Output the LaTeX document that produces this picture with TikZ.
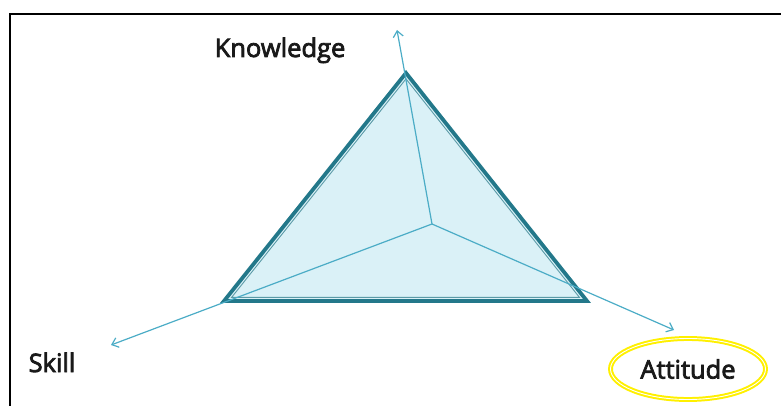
\documentclass[tikz,border=0pt]{standalone}
\usepackage{fontspec}
\setmainfont{Open Sans}
\newfontfamily\wordfont[FakeBold=3]{Open Sans}
\usetikzlibrary{shapes,arrows.meta,positioning,calc}

\definecolor{edgeteal}{HTML}{23788A}
\definecolor{axisblue}{HTML}{4BACC6}
\definecolor{facefill}{HTML}{DAF1F7}
\definecolor{markyellow}{HTML}{FFF000}

\begin{document}
\begin{tikzpicture}[
  x=1pt, y=-1pt,
  word/.style={
    font=\wordfont\fontsize{25.5}{30}\selectfont,
    text=black!90,
    inner sep=0pt
  },
  axis/.style={draw=axisblue, line width=1.2pt, -{Straight Barb[length=6pt,width=10pt]}},
  rim/.style={draw=edgeteal, line width=3.8pt, line join=miter},
  innerrim/.style={draw=edgeteal!75, line width=0.9pt},
  ring/.style={
    ellipse,
    draw=markyellow,
    double=white,
    double distance=0.9pt,
    line width=2pt,
    minimum width=155pt,
    minimum height=61pt,
    inner sep=0pt
  }
]
\useasboundingbox (0,0) rectangle (781,406);

% frame
\draw[line width=2.5pt] (10,406) -- (10,14) -- (781,14);

% corners of the triangle
\coordinate (top) at (406,73);
\coordinate (left) at (224,301);
\coordinate (right) at (587,301);
\coordinate (centre) at (432,224);
\coordinate (inc) at (405.8,213.5);

% arrow ends
\coordinate (kend) at (397,30);
\coordinate (send) at (111,345);
\coordinate (aend) at (674,330);

\fill[facefill] (top) -- (left) -- (right) -- cycle;
\draw[innerrim] ($(inc)!0.958!(top)$) -- ($(inc)!0.958!(left)$) -- ($(inc)!0.958!(right)$) -- cycle;
\draw[rim] (top) -- (left) -- (right) -- cycle;

\draw[axis] (centre) -- (kend);
\draw[axis] (centre) -- (send);
\draw[axis] (centre) -- (aend);

\node[word, anchor=base] (know) at (280,57) {Knowledge};
\node[word, anchor=base] (skill) at (52,372) {Skill};
\node[word, ring] (att) at (688,369) {Attitude};

\end{tikzpicture}
\end{document}
